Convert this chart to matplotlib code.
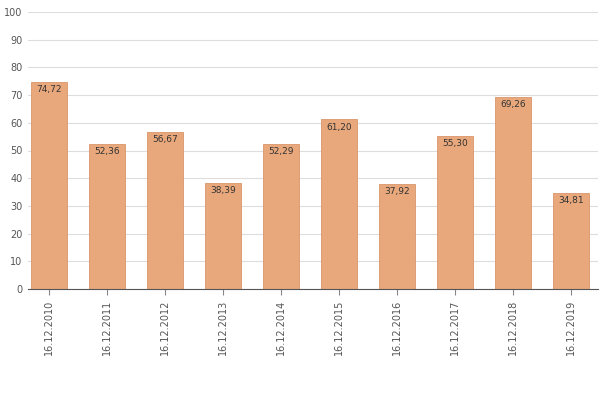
import matplotlib
matplotlib.use("Agg")
import matplotlib.pyplot as plt

categories = ["16.12.2010","16.12.2011","16.12.2012","16.12.2013","16.12.2014",
              "16.12.2015","16.12.2016","16.12.2017","16.12.2018","16.12.2019"]
values = [74.72, 52.36, 56.67, 38.39, 52.29, 61.20, 37.92, 55.30, 69.26, 34.81]

fig = plt.figure(figsize=(6, 4), dpi=100)
ax = fig.add_axes([0.047, 0.2775, 0.95, 0.6925])
x = range(len(values))
bars = ax.bar(x, values, width=0.62, color="#E8A87C", edgecolor="#D9956A", linewidth=0.6, zorder=2)
for xi, v in zip(x, values):
    ax.text(xi, v - 1.2, f"{v:.2f}".replace(".", ","), ha="center", va="top", fontsize=6.5, color="#333333", zorder=3)
ax.set_ylim(0, 100)
ax.set_xlim(-0.36, 9.47)
ax.set_yticks(range(0, 101, 10))
ax.set_xticks(list(x))
ax.set_xticklabels(categories, rotation=90, fontsize=7, color="#555555")
ax.tick_params(axis="y", labelsize=7, colors="#555555", length=0, pad=4)
ax.tick_params(axis="x", length=4, color="#888888")
ax.grid(axis="y", color="#DDDDDD", linewidth=0.8, zorder=0)
for s in ["top", "right", "left"]:
    ax.spines[s].set_visible(False)
ax.spines["bottom"].set_color("#555555")
fig.savefig("out.png", dpi=100)
